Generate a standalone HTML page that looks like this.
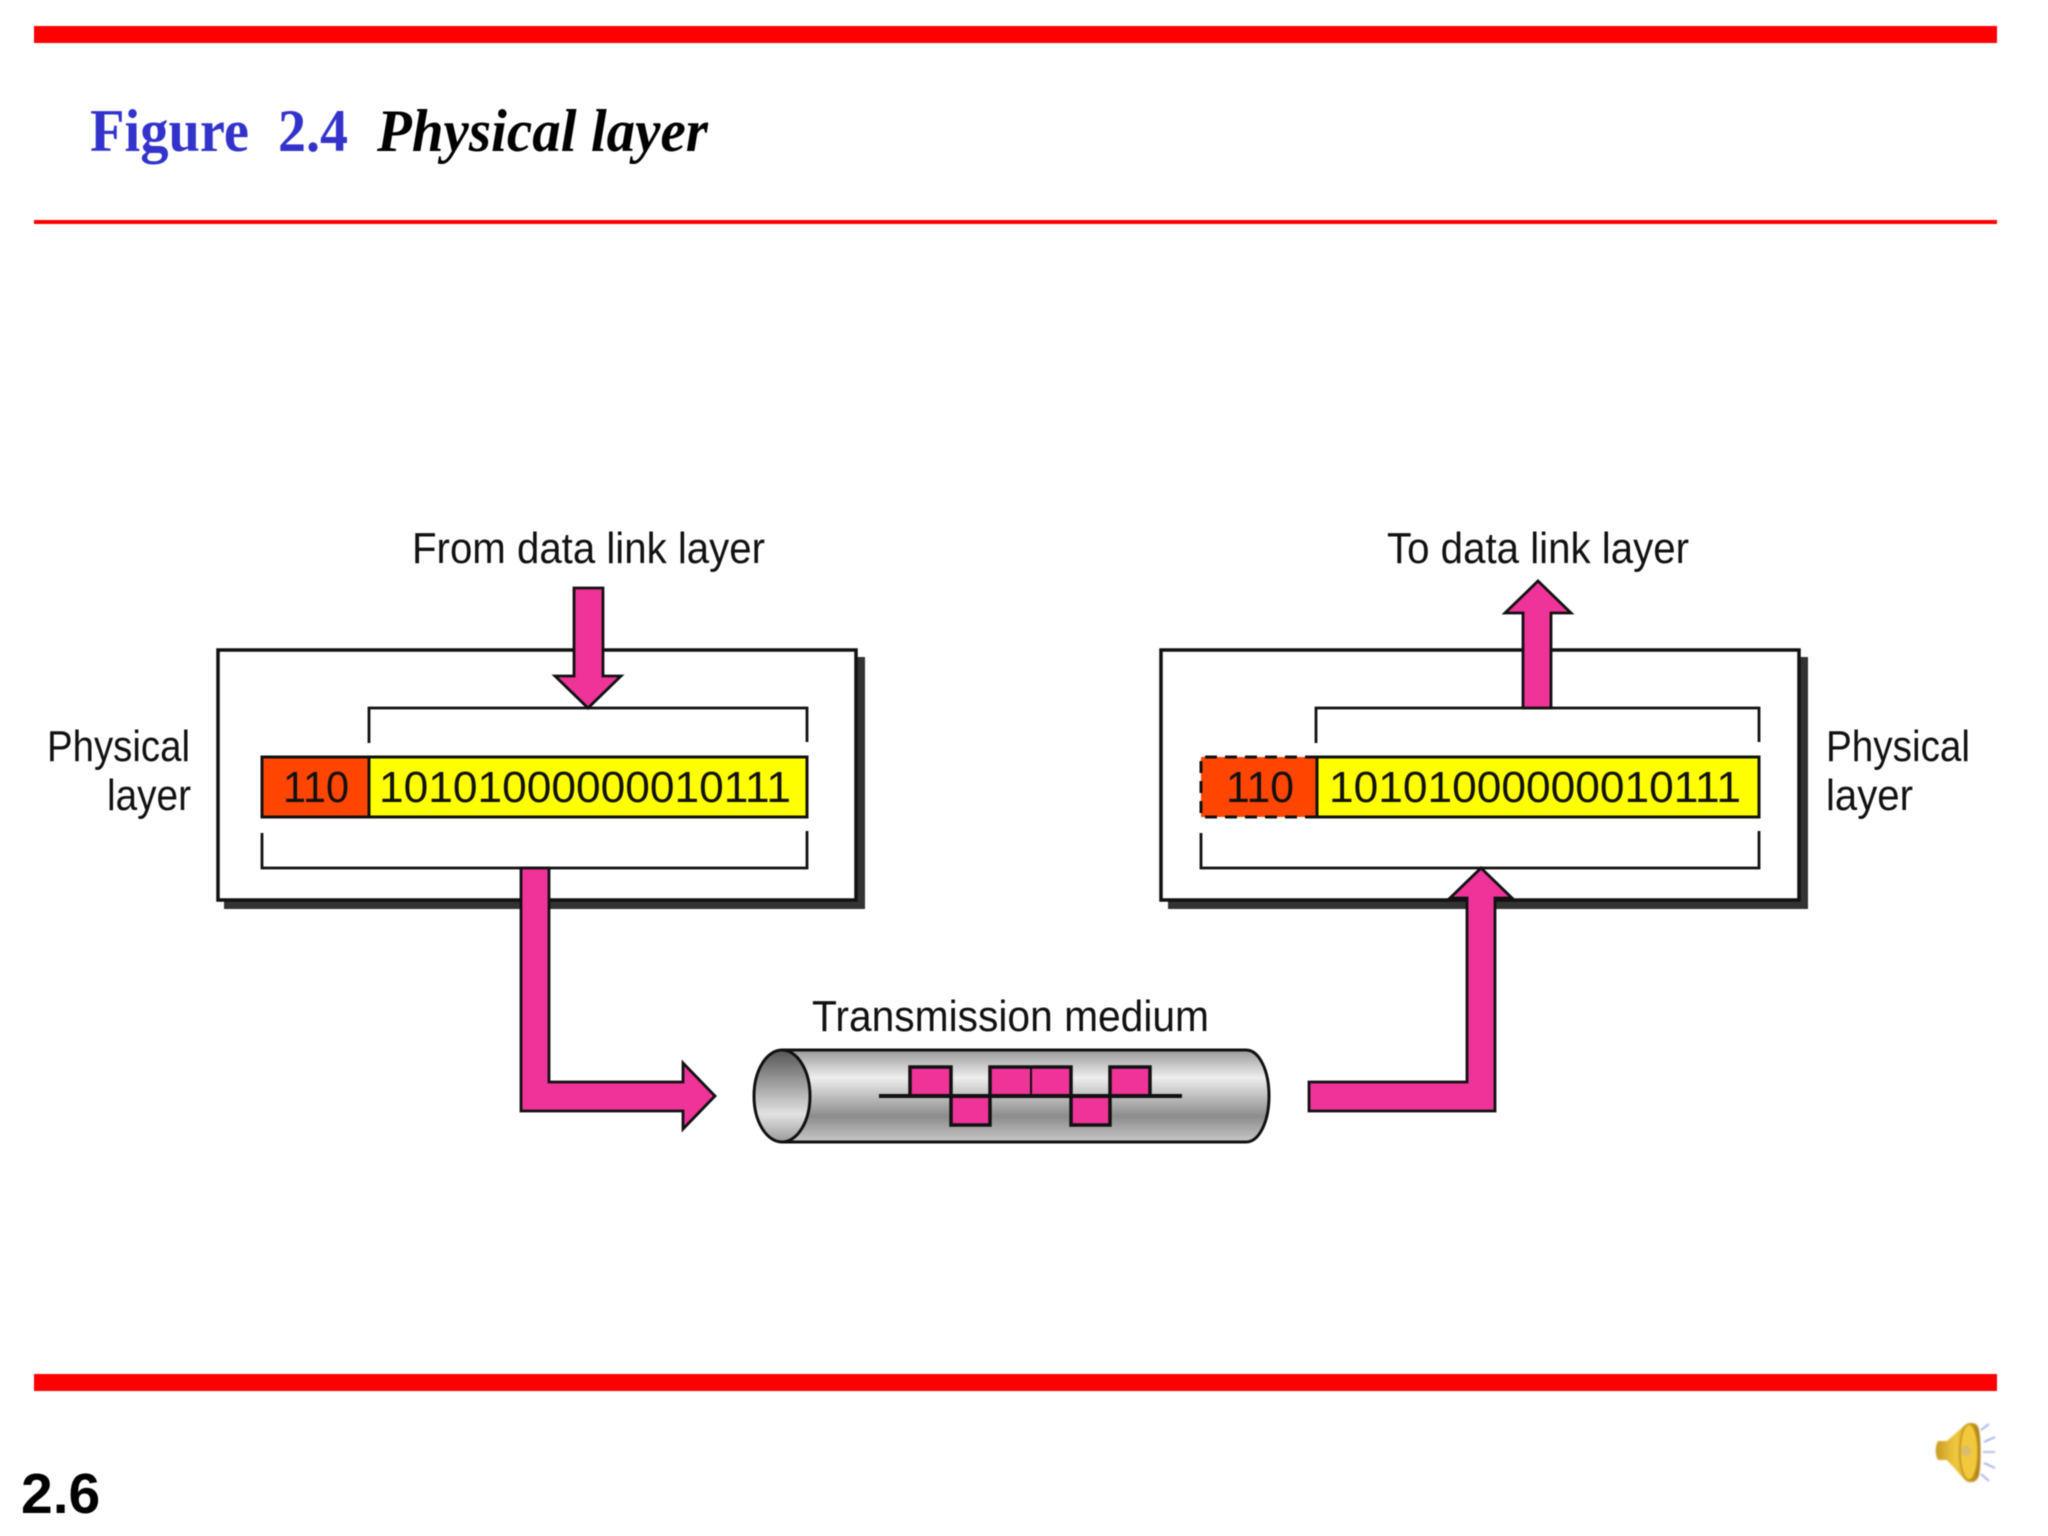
<!DOCTYPE html>
<html><head><meta charset="utf-8"><title>Figure 2.4 Physical layer</title>
<style>html,body{margin:0;padding:0;background:#fff;width:2048px;height:1536px;overflow:hidden}svg{display:block;filter:blur(0.4px)}
.m{font-family:"Liberation Sans",sans-serif;font-size:44px;fill:#111}
.t{font-family:"Liberation Serif",serif;font-size:60px;font-weight:bold}
</style></head><body>
<svg xmlns="http://www.w3.org/2000/svg" width="2048" height="1536" viewBox="0 0 2048 1536">
<defs>
<linearGradient id="cyl" x1="0" y1="0" x2="0" y2="1"><stop offset="0" stop-color="#999"/><stop offset=".3" stop-color="#eee"/><stop offset=".72" stop-color="#8c8c8c"/><stop offset="1" stop-color="#c8c8c8"/></linearGradient>
<linearGradient id="end" x1="0" y1="0" x2="0" y2="1"><stop offset="0" stop-color="#555"/><stop offset=".7" stop-color="#e2e2e2"/><stop offset="1" stop-color="#999"/></linearGradient>
<linearGradient id="spk" x1="0" y1="0" x2="1" y2="0"><stop offset="0" stop-color="#c89a20"/><stop offset=".45" stop-color="#f0c840"/><stop offset="1" stop-color="#a87c10"/></linearGradient>
<filter id="b" x="-20%" y="-20%" width="140%" height="140%"><feGaussianBlur stdDeviation="0.9"/></filter>
</defs>
<rect x="34" y="26" width="1963" height="17" fill="#f00"/>
<rect x="34" y="220" width="1963" height="4" fill="#f00"/>
<rect x="34" y="1374" width="1963" height="17" fill="#f00"/>
<text class="t" x="90" y="151" fill="#3333cc" textLength="159" lengthAdjust="spacingAndGlyphs">Figure</text>
<text class="t" x="278" y="151" fill="#3333cc" textLength="70" lengthAdjust="spacingAndGlyphs">2.4</text>
<text class="t" x="377" y="151" font-style="italic" fill="#000" textLength="331" lengthAdjust="spacingAndGlyphs">Physical layer</text>

<rect x="224" y="657" width="641" height="252" fill="#333"/>
<rect x="218" y="650" width="638" height="250" fill="#fff" stroke="#111" stroke-width="3.5"/>
<rect x="1168" y="657" width="640" height="252" fill="#333"/>
<rect x="1161" y="650" width="638" height="250" fill="#fff" stroke="#111" stroke-width="3.5"/>

<path d="M369 743V708H807V742M262 833V868H807V831" fill="none" stroke="#111" stroke-width="2.8"/>
<rect x="262" y="757" width="107" height="60" fill="#ff4500"/>
<rect x="369" y="757" width="438" height="60" fill="#ff0"/>
<rect x="262" y="757" width="545" height="60" fill="none" stroke="#111" stroke-width="3"/>
<path d="M369 757V817" stroke="#111" stroke-width="3"/>

<path d="M1316 743V708H1759V742M1201 833V868H1759V831" fill="none" stroke="#111" stroke-width="2.8"/>
<rect x="1201" y="757" width="116" height="60" fill="#ff4500"/>
<rect x="1317" y="757" width="442" height="60" fill="#ff0" stroke="#111" stroke-width="3"/>
<path d="M1317 757H1201V817H1317" fill="none" stroke="#111" stroke-width="3" stroke-dasharray="12 8"/>

<g fill="#ee3399" stroke="#111" stroke-width="2.8" stroke-linejoin="miter">
<polygon points="574,588 603,588 603,676 621,676 588,708 555,676 574,676"/>
<polygon points="1523,708 1523,613 1505,613 1538,581 1571,613 1551,613 1551,708"/>
<polygon points="521,868 549,868 549,1082 683,1082 683,1063 715,1096 683,1129 683,1111 521,1111"/>
<polygon points="1309,1082 1467,1082 1467,898 1450,898 1481,868 1512,898 1495,898 1495,1111 1309,1111"/>
</g>

<path d="M782 1050H1246C1259 1050 1269 1070 1269 1096C1269 1122 1259 1142 1246 1142H782Z" fill="url(#cyl)" stroke="#111" stroke-width="3"/>
<ellipse cx="782" cy="1096" rx="28" ry="46" fill="url(#end)" stroke="#111" stroke-width="3"/>
<path d="M910 1096V1066H951V1096ZM951 1096H990V1126H951ZM990 1096V1066H1071V1096ZM1071 1096H1110V1126H1071ZM1110 1096V1066H1150V1096Z" fill="#ee3399"/>
<path d="M910 1096V1067H951V1125H990V1067H1071V1125H1110V1067H1150V1096" fill="none" stroke="#111" stroke-width="3.5"/>
<path d="M1031 1067V1096" stroke="#111" stroke-width="2"/>
<path d="M879 1096H1182" stroke="#111" stroke-width="4"/>

<text class="m" x="412" y="563" textLength="353" lengthAdjust="spacingAndGlyphs">From data link layer</text>
<text class="m" x="1387" y="563" textLength="302" lengthAdjust="spacingAndGlyphs">To data link layer</text>
<text class="m" x="47" y="761" textLength="143" lengthAdjust="spacingAndGlyphs">Physical</text>
<text class="m" x="107" y="810" textLength="84" lengthAdjust="spacingAndGlyphs">layer</text>
<text class="m" x="1826" y="761" textLength="144" lengthAdjust="spacingAndGlyphs">Physical</text>
<text class="m" x="1826" y="810" textLength="87" lengthAdjust="spacingAndGlyphs">layer</text>
<text class="m" x="283" y="802" textLength="66" lengthAdjust="spacingAndGlyphs">110</text>
<text class="m" x="379" y="802" textLength="412" lengthAdjust="spacingAndGlyphs">10101000000010111</text>
<text class="m" x="1226" y="802" textLength="68" lengthAdjust="spacingAndGlyphs">110</text>
<text class="m" x="1329" y="802" textLength="412" lengthAdjust="spacingAndGlyphs">10101000000010111</text>
<text class="m" x="812" y="1031" textLength="397" lengthAdjust="spacingAndGlyphs">Transmission medium</text>
<text x="21" y="1513" font-family="'Liberation Sans',sans-serif" font-size="57" font-weight="bold" fill="#000">2.6</text>

<g filter="url(#b)">
<path d="M1938 1441H1947L1965 1425C1972 1421 1978 1423 1979 1430C1981 1440 1981 1466 1979 1475C1977 1483 1970 1484 1965 1480L1947 1460H1938C1935 1455 1935 1446 1938 1441Z" fill="url(#spk)"/>
<ellipse cx="1969" cy="1452" rx="9" ry="28" fill="#f2c93c" stroke="#c09018" stroke-width="1.5"/>
<circle cx="1966" cy="1451" r="5" fill="#d8bc70"/>
<path d="M1981 1430L1989 1424M1984 1442L1995 1437M1983 1452H1995M1984 1463L1995 1468M1981 1474L1989 1481" stroke="#9aa4dc" stroke-width="1.6" fill="none"/>
</g>
</svg>
</body></html>
